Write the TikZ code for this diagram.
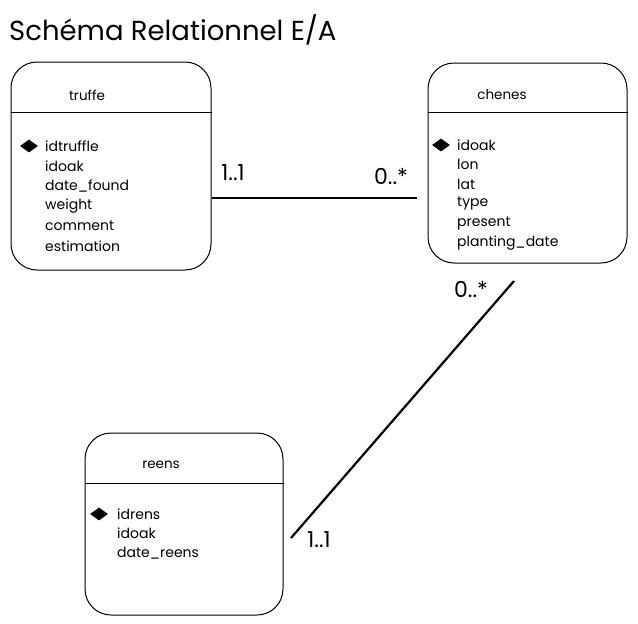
\documentclass[tikz,border=0pt]{standalone}
\usepackage{fontspec}
\setmainfont{Poppins}
\usetikzlibrary{shapes.geometric}
\begin{document}
\begin{tikzpicture}[x=1pt, y=-1pt,
  entity/.style={shape=rectangle, draw=black, line width=1pt, rounded corners=26pt, inner sep=0pt},
  key/.style={shape=diamond, fill=black, inner sep=0pt, minimum width=18pt, minimum height=13pt},
  attr/.style={anchor=west, inner sep=0pt, font=\fontsize{14}{16}\selectfont},
  ename/.style={anchor=center, inner sep=0pt, font=\fontsize{13.5}{16}\selectfont},
  card/.style={anchor=center, inner sep=0pt, font=\fontsize{22}{26}\selectfont}]
\useasboundingbox (0,0) rectangle (638,624);
\node[anchor=west, inner sep=0pt, font=\fontsize{27.5}{32}\selectfont] (title) at (9,30) {Schéma Relationnel E/A};
% entities
\node[entity, minimum width=200pt, minimum height=208pt] (truffe) at (111,166) {};
\node[entity, minimum width=199pt, minimum height=200pt] (chenes) at (527.5,163) {};
\node[entity, minimum width=198pt, minimum height=182pt] (reens) at (184,524) {};
\draw[line width=1pt] ([yshift=-51pt]truffe.north west) -- ([yshift=-51pt]truffe.north east);
\draw[line width=1pt] ([yshift=-50pt]chenes.north west) -- ([yshift=-50pt]chenes.north east);
\draw[line width=1pt] ([yshift=-51pt]reens.north west) -- ([yshift=-51pt]reens.north east);
\node[ename] (truffeName) at (87,95) {truffe};
\node[ename] (chenesName) at (502,95) {chenes};
\node[ename] (reensName) at (161,465) {reens};
% keys
\node[key] (truffeKey) at (29,146) {};
\node[key] (chenesKey) at (441,145) {};
\node[key] (reensKey) at (99,514) {};
% attributes
\foreach \a [count=\i] in {idtruffle, idoak, date\_found, weight, comment, estimation}
  \node[attr] (ta\i) at (45,126+20*\i) {\a};
\foreach \a [count=\i] in {idoak, lon, lat, type, present, planting\_date}
  \node[attr] (ca\i) at (457,125.5+19.6*\i) {\a};
\foreach \a [count=\i] in {idrens, idoak, date\_reens}
  \node[attr] (ra\i) at (117,494.5+19.5*\i) {\a};
% relations
\coordinate (tc1) at (212,198);
\coordinate (tc2) at (417,198);
\coordinate (cr1) at (514,281);
\coordinate (cr2) at (291,538);
\path [-, line width=2.2pt, draw=black] (tc1) edge (tc2);
\path [-, line width=2.2pt, draw=black] (cr1) edge (cr2);
\node[card] (c11) at (233,173) {1..1};
\node[card] (c0n) at (391,176) {0..*};
\node[card] (c0n2) at (471,289) {0..*};
\node[card] (c11b) at (319,540) {1..1};
\end{tikzpicture}
\end{document}
